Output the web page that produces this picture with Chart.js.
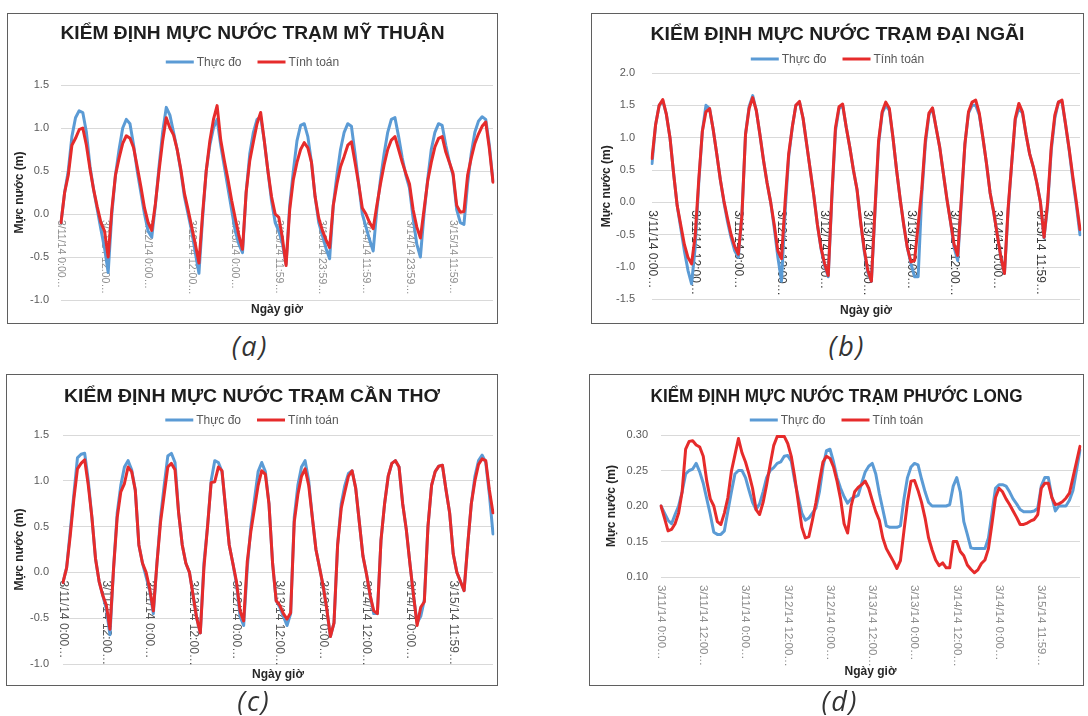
<!DOCTYPE html>
<html lang="vi">
<head>
<meta charset="utf-8">
<title>Kiểm định mực nước</title>
<script src="https://cdn.jsdelivr.net/npm/chart.js@4.4.0/dist/chart.umd.min.js"></script>
<style>
  body { margin: 0; width: 1088px; height: 716px; background: #fff; position: relative; overflow: hidden; }
  .panel { position: absolute; border: 1px solid #5f5f5f; background: #fff; }
  .panel canvas { display: block; }
  .cap { position: absolute; font-family: "Open Sans", sans-serif; font-style: italic; font-size: 27px;
         color: #333; letter-spacing: 2px; line-height: 1; transform: translate(-50%, -50%); }
</style>
</head>
<body>

<div class="panel" style="left:7px;top:13px;width:489px;height:309px"><canvas id="chart-a" width="489" height="309"></canvas></div>
<div class="panel" style="left:591px;top:13px;width:491px;height:309px"><canvas id="chart-b" width="491" height="309"></canvas></div>
<div class="panel" style="left:6px;top:374px;width:490px;height:310px"><canvas id="chart-c" width="490" height="310"></canvas></div>
<div class="panel" style="left:589px;top:374px;width:493px;height:310px"><canvas id="chart-d" width="493" height="310"></canvas></div>

<div class="cap" style="left:250px;top:345px">(a)</div>
<div class="cap" style="left:847px;top:345px">(b)</div>
<div class="cap" style="left:254px;top:700px">(c)</div>
<div class="cap" style="left:840px;top:700px">(d)</div>

<script>
// Nhãn trục thời gian (mỗi 12 giờ một nhãn)
const tickLabelsA = ['3/11/14 0:00…', '3/11/14 12:00…', '3/12/14 0:00…', '3/12/14 12:00…', '3/13/14 0:00…',
  '3/13/14 11:59…', '3/13/14 23:59…', '3/14/14 11:59…', '3/14/14 23:59…', '3/15/14 11:59…'];
const tickLabelsBCD = ['3/11/14 0:00…', '3/11/14 12:00…', '3/11/14 0:00…', '3/12/14 12:00…', '3/12/14 0:00…',
  '3/13/14 12:00…', '3/13/14 0:00…', '3/14/14 12:00…', '3/14/14 0:00…', '3/15/14 11:59…'];
const HOURS = 120;

// Trạm Mỹ Thuận
const myThuanDo = [
  -0.10, 0.25, 0.50, 0.90, 1.12, 1.20, 1.18, 0.95, 0.55, 0.28, 0.05, -0.18,
  -0.40, -0.68, 0.00, 0.45, 0.75, 1.00, 1.10, 1.05, 0.80, 0.50, 0.25, 0.00,
  -0.20, -0.27, 0.10, 0.55, 0.95, 1.24, 1.15, 0.95, 0.75, 0.50, 0.20, 0.00,
  -0.20, -0.45, -0.69, -0.05, 0.50, 0.80, 1.00, 1.10, 0.80, 0.55, 0.30, 0.05,
  -0.20, -0.35, -0.45, 0.25, 0.70, 0.95, 1.10, 1.13, 0.85, 0.50, 0.15, -0.10,
  -0.20, -0.35, -0.58, 0.10, 0.50, 0.85, 1.03, 1.05, 0.90, 0.60, 0.20, -0.10,
  -0.25, -0.40, -0.52, 0.10, 0.45, 0.75, 0.95, 1.05, 1.02, 0.70, 0.35, 0.00,
  -0.15, -0.30, -0.43, 0.05, 0.40, 0.70, 0.95, 1.10, 1.12, 0.90, 0.65, 0.45,
  0.30, -0.05, -0.35, -0.50, 0.00, 0.40, 0.75, 0.95, 1.05, 1.03, 0.80, 0.60,
  0.45, 0.05, -0.10, -0.12, 0.35, 0.70, 0.95, 1.08, 1.13, 1.10, 0.80, 0.38
];
const myThuanTinh = [
  -0.10, 0.25, 0.45, 0.80, 0.88, 0.98, 1.00, 0.80, 0.52, 0.28, 0.08, -0.10,
  -0.20, -0.50, 0.05, 0.45, 0.65, 0.82, 0.91, 0.88, 0.77, 0.55, 0.32, 0.07,
  -0.10, -0.19, 0.12, 0.50, 0.85, 1.12, 1.00, 0.92, 0.75, 0.52, 0.24, 0.05,
  -0.15, -0.35, -0.57, 0.00, 0.50, 0.85, 1.10, 1.26, 0.86, 0.62, 0.40, 0.16,
  -0.05, -0.25, -0.41, 0.25, 0.62, 0.84, 1.05, 1.18, 0.85, 0.50, 0.20, 0.00,
  -0.04, -0.28, -0.60, 0.05, 0.40, 0.60, 0.75, 0.83, 0.77, 0.60, 0.20, -0.05,
  -0.19, -0.30, -0.39, 0.10, 0.35, 0.55, 0.67, 0.80, 0.84, 0.60, 0.35, 0.07,
  0.00, -0.10, -0.17, 0.10, 0.35, 0.57, 0.75, 0.86, 0.90, 0.75, 0.60, 0.47,
  0.35, 0.05, -0.15, -0.28, 0.05, 0.38, 0.60, 0.78, 0.88, 0.90, 0.72, 0.60,
  0.47, 0.10, 0.02, 0.03, 0.45, 0.65, 0.82, 0.93, 1.02, 1.07, 0.76, 0.37
];

// Trạm Đại Ngãi
const daiNgaiDo = [
  0.60, 1.20, 1.50, 1.57, 1.36, 1.00, 0.45, -0.05, -0.40, -0.75, -1.05, -1.26,
  -0.70, 0.30, 1.10, 1.50, 1.45, 1.13, 0.75, 0.35, 0.00, -0.30, -0.55, -0.75,
  -0.85, -0.20, 1.05, 1.48, 1.65, 1.42, 1.05, 0.65, 0.30, 0.00, -0.40, -0.85,
  -1.22, -0.15, 0.70, 1.16, 1.50, 1.55, 1.30, 0.90, 0.50, 0.10, -0.35, -0.72,
  -0.98, -1.15, 0.05, 1.10, 1.45, 1.50, 1.16, 0.85, 0.50, 0.20, -0.30, -0.75,
  -1.08, -1.22, -0.15, 0.90, 1.38, 1.50, 1.42, 1.00, 0.50, 0.05, -0.35, -0.70,
  -0.95, -1.15, -1.15, 0.10, 0.90, 1.35, 1.45, 1.15, 0.85, 0.45, 0.05, -0.30,
  -0.70, -0.90, 0.00, 0.90, 1.38, 1.50, 1.50, 1.35, 1.00, 0.60, 0.15, -0.15,
  -0.50, -0.85, -1.10, -0.15, 0.60, 1.28, 1.45, 1.38, 1.05, 0.75, 0.55, 0.30,
  0.00, -0.55, -0.05, 0.80, 1.30, 1.55, 1.55, 1.20, 0.80, 0.35, -0.05, -0.50
];
const daiNgaiTinh = [
  0.68, 1.20, 1.50, 1.59, 1.36, 1.00, 0.45, -0.05, -0.35, -0.65, -0.85, -0.95,
  -0.52, 0.35, 1.10, 1.40, 1.45, 1.13, 0.75, 0.35, 0.02, -0.25, -0.50, -0.68,
  -0.80, -0.20, 1.05, 1.45, 1.62, 1.42, 1.05, 0.65, 0.30, 0.00, -0.35, -0.75,
  -0.87, 0.00, 0.75, 1.16, 1.50, 1.56, 1.30, 0.90, 0.50, 0.10, -0.35, -0.70,
  -0.95, -1.13, 0.10, 1.15, 1.48, 1.52, 1.16, 0.85, 0.50, 0.20, -0.30, -0.72,
  -1.05, -1.22, -0.10, 0.95, 1.40, 1.55, 1.45, 1.00, 0.50, 0.05, -0.35, -0.70,
  -0.92, -0.90, -0.35, 0.20, 0.96, 1.38, 1.46, 1.15, 0.85, 0.45, 0.05, -0.30,
  -0.65, -0.82, 0.05, 0.90, 1.40, 1.55, 1.58, 1.38, 1.00, 0.60, 0.15, -0.15,
  -0.50, -0.85, -1.10, -0.10, 0.60, 1.30, 1.53, 1.40, 1.05, 0.75, 0.55, 0.30,
  0.00, -0.54, 0.00, 0.85, 1.35, 1.55, 1.58, 1.20, 0.82, 0.40, 0.00, -0.42
];

// Trạm Cần Thơ
const canThoDo = [
  -0.11, 0.05, 0.45, 0.85, 1.25, 1.29, 1.30, 1.00, 0.60, 0.15, -0.10, -0.25,
  -0.40, -0.68, 0.05, 0.65, 0.95, 1.15, 1.22, 1.12, 0.90, 0.30, 0.10, -0.05,
  -0.20, -0.45, 0.10, 0.60, 0.95, 1.27, 1.30, 1.20, 0.65, 0.30, 0.10, 0.00,
  -0.25, -0.50, -0.66, 0.10, 0.50, 1.00, 1.22, 1.20, 1.10, 0.70, 0.30, 0.10,
  -0.12, -0.48, -0.58, 0.05, 0.50, 0.80, 1.10, 1.20, 1.10, 0.75, 0.10, -0.31,
  -0.38, -0.48, -0.58, -0.45, 0.60, 0.95, 1.15, 1.22, 1.00, 0.60, 0.25, 0.05,
  -0.15, -0.40, -0.70, -0.55, 0.30, 0.75, 0.95, 1.08, 1.11, 0.92, 0.55, 0.18,
  -0.02, -0.25, -0.45, -0.45, 0.35, 0.75, 1.05, 1.19, 1.22, 1.15, 0.75, 0.47,
  0.10, -0.25, -0.55, -0.48, -0.30, 0.50, 0.95, 1.10, 1.16, 1.17, 0.90, 0.65,
  0.20, 0.00, -0.10, -0.20, 0.30, 0.75, 1.05, 1.22, 1.28, 1.20, 0.85, 0.42
];
const canThoTinh = [
  -0.11, 0.05, 0.40, 0.80, 1.13, 1.19, 1.23, 0.95, 0.60, 0.15, -0.10, -0.25,
  -0.36, -0.62, 0.05, 0.60, 0.88, 0.97, 1.15, 1.10, 0.90, 0.30, 0.10, 0.00,
  -0.18, -0.42, 0.10, 0.55, 0.85, 1.15, 1.19, 1.12, 0.65, 0.30, 0.10, 0.00,
  -0.25, -0.50, -0.66, 0.05, 0.50, 0.98, 0.99, 1.15, 1.11, 0.70, 0.30, 0.10,
  -0.10, -0.42, -0.53, 0.12, 0.45, 0.70, 0.95, 1.11, 1.07, 0.75, 0.10, -0.31,
  -0.36, -0.45, -0.51, -0.44, 0.55, 0.85, 1.05, 1.13, 0.95, 0.60, 0.25, 0.05,
  -0.15, -0.40, -0.70, -0.55, 0.30, 0.70, 0.88, 1.05, 1.11, 0.92, 0.55, 0.18,
  -0.02, -0.25, -0.42, -0.45, 0.35, 0.75, 1.05, 1.19, 1.22, 1.15, 0.75, 0.47,
  0.10, -0.25, -0.58, -0.38, -0.32, 0.50, 0.95, 1.10, 1.16, 1.17, 0.90, 0.65,
  0.20, 0.00, -0.10, -0.20, 0.30, 0.75, 1.00, 1.18, 1.24, 1.22, 0.90, 0.65
];

// Trạm Phước Long
const phuocLongDo = [
  0.200, 0.190, 0.180, 0.175, 0.188, 0.200, 0.220, 0.245, 0.250, 0.252, 0.260, 0.248,
  0.232, 0.210, 0.188, 0.163, 0.160, 0.160, 0.165, 0.193, 0.220, 0.245, 0.250, 0.250,
  0.240, 0.222, 0.205, 0.195, 0.203, 0.220, 0.240, 0.250, 0.254, 0.260, 0.262, 0.270,
  0.271, 0.263, 0.235, 0.212, 0.190, 0.180, 0.183, 0.190, 0.197, 0.220, 0.255, 0.278,
  0.280, 0.262, 0.240, 0.225, 0.213, 0.204, 0.210, 0.213, 0.215, 0.232, 0.248, 0.256,
  0.260, 0.245, 0.218, 0.195, 0.172, 0.170, 0.170, 0.170, 0.172, 0.210, 0.240, 0.255,
  0.260, 0.258, 0.238, 0.220, 0.205, 0.200, 0.200, 0.200, 0.200, 0.200, 0.202, 0.228,
  0.240, 0.220, 0.178, 0.160, 0.141, 0.140, 0.140, 0.140, 0.140, 0.155, 0.190, 0.225,
  0.230, 0.230, 0.228, 0.220, 0.210, 0.203, 0.195, 0.192, 0.192, 0.192, 0.193, 0.197,
  0.228, 0.240, 0.240, 0.213, 0.193, 0.200, 0.200, 0.200, 0.208, 0.222, 0.250, 0.279
];
const phuocLongTinh = [
  0.200, 0.183, 0.165, 0.167, 0.175, 0.190, 0.220, 0.280, 0.291, 0.292, 0.286, 0.283,
  0.270, 0.235, 0.210, 0.200, 0.178, 0.174, 0.190, 0.212, 0.249, 0.272, 0.295, 0.275,
  0.262, 0.245, 0.225, 0.195, 0.188, 0.205, 0.230, 0.258, 0.285, 0.298, 0.298, 0.298,
  0.288, 0.270, 0.240, 0.205, 0.170, 0.155, 0.157, 0.180, 0.205, 0.235, 0.262, 0.270,
  0.267, 0.255, 0.235, 0.210, 0.175, 0.162, 0.200, 0.220, 0.226, 0.230, 0.235, 0.225,
  0.208, 0.192, 0.180, 0.155, 0.140, 0.131, 0.122, 0.112, 0.123, 0.165, 0.205, 0.235,
  0.236, 0.222, 0.205, 0.183, 0.155, 0.138, 0.124, 0.116, 0.120, 0.113, 0.113, 0.150,
  0.150, 0.136, 0.130, 0.117, 0.111, 0.106, 0.110, 0.119, 0.124, 0.140, 0.175, 0.212,
  0.225, 0.220, 0.210, 0.202, 0.193, 0.184, 0.174, 0.174, 0.176, 0.179, 0.181, 0.188,
  0.225, 0.232, 0.232, 0.212, 0.202, 0.203, 0.206, 0.211, 0.218, 0.240, 0.262, 0.284
];

const BLUE = '#5b9bd5';
const RED = '#e62b2b';

Chart.defaults.font.family = '"Liberation Sans", Arial, sans-serif';
Chart.defaults.color = '#595959';

// Một nhãn cho mỗi giờ, chỉ ghi chữ mỗi 12 giờ
function categories(ticks) {
  return Array.from({ length: HOURS }, (_, i) => (i % 12 === 0 ? ticks[i / 12] : ''));
}

/**
 * Tiêu đề + chú giải, vẽ tay cho đúng vị trí
 */
const panelDecor = {
  id: 'panelDecor',
  afterDraw(chart, args, opts) {
    const ctx = chart.ctx;
    const cx = chart.width / 2;
    ctx.save();
    ctx.textBaseline = 'middle';

    // tiêu đề: chữ đậm, ép ngang cho vừa bề rộng gốc
    ctx.font = 'bold 19px "Liberation Sans", Arial, sans-serif';
    ctx.fillStyle = '#1e1e1e';
    ctx.textAlign = 'center';
    const tw = ctx.measureText(opts.title).width;
    ctx.save();
    ctx.translate(cx, opts.titleY);
    ctx.scale(opts.titleWidth / tw, 1);
    ctx.fillText(opts.title, 0, 0);
    ctx.restore();

    // chú giải
    ctx.font = '12px "Liberation Sans", Arial, sans-serif';
    ctx.textAlign = 'left';
    const lineLen = 28, gap = 3, between = 16;
    const items = chart.data.datasets.map(ds => ({ text: ds.label, color: ds.borderColor }));
    const widths = items.map(it => lineLen + gap + ctx.measureText(it.text).width);
    const total = widths.reduce((a, b) => a + b, 0) + between * (items.length - 1);
    let x = cx - total / 2;
    items.forEach((it, i) => {
      ctx.strokeStyle = it.color;
      ctx.lineWidth = 3;
      ctx.beginPath();
      ctx.moveTo(x, opts.legendY);
      ctx.lineTo(x + lineLen, opts.legendY);
      ctx.stroke();
      ctx.fillStyle = '#595959';
      ctx.fillText(it.text, x + lineLen + gap, opts.legendY + 1);
      x += widths[i] + between;
    });
    ctx.restore();
  }
};

/**
 * Nhãn ngày giờ xoay dọc, đặt ngay dưới mức cắt trục
 */
const rotLabels = {
  id: 'rotLabels',
  beforeDatasetsDraw(chart, args, opts) {
    const { ctx, scales: { x, y } } = chart;
    const top = y.getPixelForValue(opts.at) + opts.gap;
    ctx.save();
    ctx.font = opts.size + 'px "Liberation Sans", Arial, sans-serif';
    ctx.fillStyle = opts.color;
    ctx.textAlign = 'left';
    ctx.textBaseline = 'middle';
    chart.data.labels.forEach((lab, i) => {
      if (!lab) return;
      ctx.save();
      ctx.translate(x.getPixelForValue(i), top);
      ctx.rotate(Math.PI / 2);
      ctx.fillText(lab, 0, 0);
      ctx.restore();
    });
    ctx.restore();
  }
};

function renderPanel(id, p) {
  const canvas = document.getElementById(id);
  return new Chart(canvas, {
    type: 'line',
    data: {
      labels: categories(p.ticks),
      datasets: [
        { label: 'Thực đo', data: p.measured, borderColor: BLUE, backgroundColor: BLUE, borderWidth: 3, fill: false, order: 1 },
        { label: 'Tính toán', data: p.computed, borderColor: RED, backgroundColor: RED, borderWidth: 3, fill: false, order: 0 }
      ]
    },
    options: {
      responsive: false,
      animation: false,
      layout: { padding: { top: p.plotTop, left: 0, right: p.w - p.plotRight, bottom: 0 } },
      elements: {
        point: { radius: 0 },
        line: { tension: 0, borderJoinStyle: 'round', borderCapStyle: 'round' }
      },
      plugins: {
        legend: { display: false },
        tooltip: { enabled: false },
        panelDecor: { title: p.title, titleWidth: p.titleWidth, titleY: p.titleY, legendY: p.legendY },
        rotLabels: { at: p.labelAt, gap: p.labelGap, size: p.labelSize, color: p.labelColor }
      },
      scales: {
        x: {
          grid: { display: false },
          border: { display: false },
          ticks: { display: false },
          title: {
            display: true,
            text: 'Ngày giờ',
            color: '#262626',
            font: { size: 12, weight: 'bold' },
            padding: { top: 0, bottom: p.xTitlePad }
          },
          afterFit: scale => { scale.height = p.h - p.plotBottom; }
        },
        y: {
          min: p.min,
          max: p.max,
          grid: { color: '#d9d9d9', drawTicks: false },
          border: { display: false },
          ticks: {
            stepSize: p.step,
            padding: p.tickPad,
            color: '#595959',
            font: { size: 11 },
            callback: v => Number(v).toFixed(p.decimals)
          },
          title: {
            display: true,
            text: 'Mực nước (m)',
            color: '#262626',
            font: { size: 12, weight: 'bold' },
            padding: { top: p.yTitlePad, bottom: 0 }
          },
          afterFit: scale => { scale.width = p.plotLeft; }
        }
      }
    },
    plugins: [panelDecor, rotLabels]
  });
}

renderPanel('chart-a', {
  title: 'KIỂM ĐỊNH MỰC NƯỚC TRẠM MỸ THUẬN', titleWidth: 384, ticks: tickLabelsA,
  measured: myThuanDo, computed: myThuanTinh,
  w: 489, h: 309, titleY: 20, legendY: 48, plotTop: 71, plotBottom: 286, plotLeft: 53, plotRight: 485,
  min: -1.0, max: 1.5, step: 0.5, decimals: 1, tickPad: 12, yTitlePad: 4.8, xTitlePad: 5.8,
  labelAt: 0, labelGap: 6, labelSize: 10.5, labelColor: '#8c8c8c'
});

renderPanel('chart-b', {
  title: 'KIỂM ĐỊNH MỰC NƯỚC TRẠM ĐẠI NGÃI', titleWidth: 374, ticks: tickLabelsBCD,
  measured: daiNgaiDo, computed: daiNgaiTinh,
  w: 491, h: 309, titleY: 21, legendY: 45, plotTop: 59, plotBottom: 288, plotLeft: 60, plotRight: 488,
  min: -1.5, max: 2.0, step: 0.5, decimals: 1, tickPad: 17, yTitlePad: 7.8, xTitlePad: 2.8,
  labelAt: 0, labelGap: 8, labelSize: 12, labelColor: '#3a3a3a'
});

renderPanel('chart-c', {
  title: 'KIỂM ĐỊNH MỰC NƯỚC TRẠM CẦN THƠ', titleWidth: 376, ticks: tickLabelsBCD,
  measured: canThoDo, computed: canThoTinh,
  w: 490, h: 310, titleY: 22, legendY: 45, plotTop: 60, plotBottom: 289, plotLeft: 56, plotRight: 486,
  min: -1.0, max: 1.5, step: 0.5, decimals: 1, tickPad: 14, yTitlePad: 5.8, xTitlePad: 2.8,
  labelAt: 0, labelGap: 8, labelSize: 12, labelColor: '#555555'
});

renderPanel('chart-d', {
  title: 'KIỂM ĐỊNH MỰC NƯỚC TRẠM PHƯỚC LONG', titleWidth: 372, ticks: tickLabelsBCD,
  measured: phuocLongDo, computed: phuocLongTinh,
  w: 493, h: 310, titleY: 22, legendY: 45, plotTop: 60, plotBottom: 202, plotLeft: 71, plotRight: 490,
  min: 0.10, max: 0.30, step: 0.05, decimals: 2, tickPad: 13, yTitlePad: 14.8, xTitlePad: 5.8,
  labelAt: 0.10, labelGap: 8, labelSize: 11.5, labelColor: '#8c8c8c'
});
</script>
</body>
</html>
